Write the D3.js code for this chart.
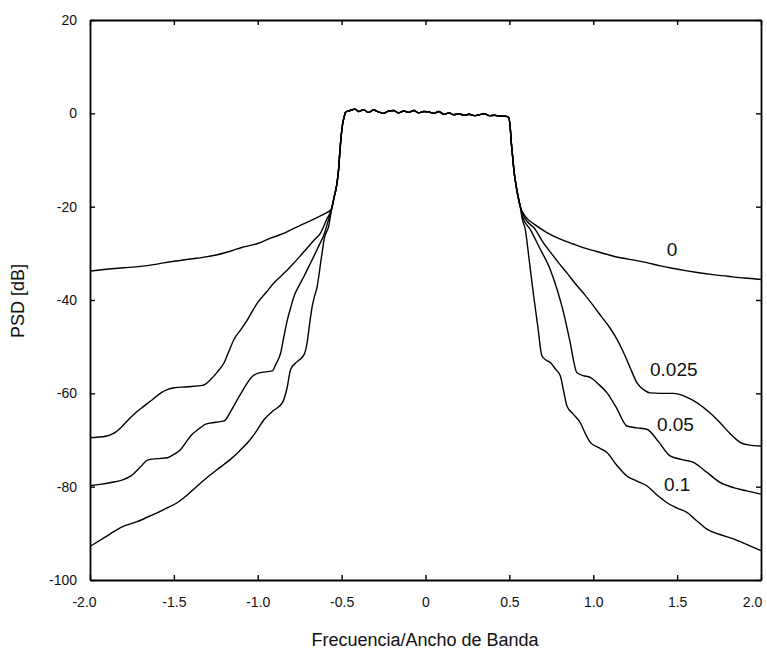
<!DOCTYPE html>
<html>
<head>
<meta charset="utf-8">
<script src="https://cdn.jsdelivr.net/npm/d3@7"></script>
<style>
  html, body { margin: 0; padding: 0; background: #fff; }
  svg { display: block; }
  text { font-family: "Liberation Sans", Arial, sans-serif; fill: #111; }
</style>
</head>
<body>
<svg id="chart" width="767" height="652"></svg>
<script>
// ---------------- data (frequency / bandwidth, PSD in dB) ----------------
const xTicks = [-2.0, -1.5, -1.0, -0.5, 0, 0.5, 1.0, 1.5, 2.0];
const xTickLabels = ["-2.0", "-1.5", "-1.0", "-0.5", "0", "0.5", "1.0", "1.5", "2.0"];
const yTicks = [20, 0, -20, -40, -60, -80, -100];
const yTickLabels = ["20", "0", "-20", "-40", "-60", "-80", "-100"];

const seriesNames = ["0", "0.025", "0.05", "0.1"];

// shared main lobe (edges + flat passband)
const band = [
  [-0.560, -20.5], [-0.545, -18.0], [-0.530, -15.5], [-0.518, -12.0], [-0.510, -8.0],
  [-0.503, -5.0], [-0.495, -2.5], [-0.485, -0.8], [-0.475, 0.3], [-0.45, 0.6],
  [-0.42, 0.9], [-0.40, 0.4], [-0.37, 0.8], [-0.34, 0.2], [-0.31, 0.7], [-0.28, 0.3],
  [-0.25, 0.0], [-0.22, 0.5], [-0.19, 0.6], [-0.16, 0.1], [-0.13, 0.5], [-0.10, 0.2],
  [-0.07, 0.6], [-0.04, 0.1], [-0.01, 0.4], [0.02, 0.3], [0.05, 0.0], [0.08, 0.4],
  [0.11, -0.2], [0.14, 0.1], [0.17, -0.3], [0.20, -0.1], [0.23, -0.4], [0.26, -0.2],
  [0.29, -0.5], [0.32, -0.3], [0.35, -0.1], [0.38, -0.5], [0.41, -0.4], [0.44, -0.6],
  [0.47, -0.6], [0.495, -0.8], [0.505, -3.0], [0.512, -6.5], [0.520, -9.5],
  [0.528, -12.5], [0.538, -15.0], [0.550, -17.5], [0.565, -20.0]
];

// left skirts (from f = -2 up to the main lobe)
const left0 = [
  [-2.00, -33.8], [-1.90, -33.4], [-1.80, -33.1], [-1.70, -32.8], [-1.60, -32.3],
  [-1.50, -31.7], [-1.40, -31.2], [-1.30, -30.7], [-1.24, -30.3], [-1.16, -29.5],
  [-1.10, -28.8], [-1.00, -27.9], [-0.92, -26.7], [-0.85, -25.8], [-0.80, -24.9],
  [-0.72, -23.6], [-0.65, -22.4], [-0.60, -21.5]
];
const left025 = [
  [-2.00, -69.5], [-1.905, -69.2], [-1.86, -68.6], [-1.815, -67.3], [-1.77, -65.6],
  [-1.726, -64.1], [-1.68, -62.8], [-1.637, -61.6], [-1.577, -59.9], [-1.54, -59.2],
  [-1.498, -58.8], [-1.42, -58.6], [-1.329, -58.3], [-1.28, -57.0], [-1.24, -55.4],
  [-1.20, -53.4], [-1.17, -50.8], [-1.141, -48.4], [-1.10, -46.3], [-1.061, -44.2],
  [-1.002, -40.6], [-0.95, -38.4], [-0.903, -36.3], [-0.85, -34.5], [-0.804, -32.8],
  [-0.75, -30.7], [-0.704, -28.8], [-0.665, -27.2], [-0.625, -25.6], [-0.59, -22.8]
];
const left05 = [
  [-2.00, -79.8], [-1.94, -79.5], [-1.875, -79.1], [-1.81, -78.6], [-1.756, -77.7],
  [-1.70, -75.8], [-1.657, -74.3], [-1.60, -74.0], [-1.538, -73.8], [-1.50, -73.1],
  [-1.458, -72.0], [-1.43, -70.6], [-1.399, -69.1], [-1.35, -67.6], [-1.310, -66.6],
  [-1.25, -66.2], [-1.200, -65.9], [-1.16, -63.8], [-1.121, -61.3], [-1.09, -59.4],
  [-1.061, -57.7], [-1.03, -56.3], [-0.992, -55.6], [-0.913, -55.2], [-0.89, -53.6],
  [-0.863, -51.3], [-0.845, -48.0], [-0.823, -44.2], [-0.80, -41.2], [-0.784, -39.2],
  [-0.755, -37.0], [-0.724, -34.9], [-0.695, -32.8], [-0.665, -30.6], [-0.635, -28.3],
  [-0.605, -26.0], [-0.58, -23.0]
];
const left1 = [
  [-2.00, -92.8], [-1.90, -90.6], [-1.815, -88.7], [-1.72, -87.5], [-1.637, -86.2],
  [-1.56, -84.9], [-1.478, -83.4], [-1.42, -81.8], [-1.359, -79.8], [-1.30, -78.0],
  [-1.240, -76.3], [-1.20, -75.2], [-1.161, -74.1], [-1.11, -72.4], [-1.061, -70.6],
  [-1.01, -68.2], [-0.962, -65.6], [-0.91, -63.8], [-0.853, -62.0], [-0.825, -58.8],
  [-0.804, -54.9], [-0.765, -53.2], [-0.724, -51.7], [-0.705, -49.0], [-0.695, -46.3],
  [-0.685, -43.6], [-0.675, -41.3], [-0.660, -39.0], [-0.645, -37.0], [-0.635, -34.6],
  [-0.625, -32.0], [-0.615, -29.5], [-0.605, -27.1], [-0.576, -24.0]
];

// right skirts (from the main lobe out to f = 2)
const right0 = [
  [0.60, -22.3], [0.65, -23.8], [0.726, -25.6], [0.80, -26.9], [0.88, -28.0],
  [0.95, -28.9], [1.02, -29.6], [1.10, -30.4], [1.17, -31.0], [1.25, -31.5],
  [1.32, -32.0], [1.40, -32.7], [1.47, -33.2], [1.55, -33.7], [1.62, -34.1],
  [1.70, -34.5], [1.80, -34.9], [1.90, -35.3], [2.00, -35.6]
];
const right025 = [
  [0.59, -22.3], [0.655, -24.9], [0.70, -27.6], [0.75, -30.0], [0.80, -32.3],
  [0.843, -34.2], [0.90, -36.8], [0.95, -38.9], [1.002, -41.3], [1.05, -43.6],
  [1.10, -46.0], [1.141, -48.4], [1.18, -51.2], [1.22, -54.5], [1.260, -57.7],
  [1.30, -59.2], [1.339, -59.9], [1.40, -60.0], [1.478, -60.0], [1.55, -60.7],
  [1.617, -62.0], [1.69, -64.0], [1.756, -66.3], [1.815, -68.6], [1.875, -70.5],
  [1.93, -71.1], [2.00, -71.3]
];
const right05 = [
  [0.58, -22.3], [0.625, -24.9], [0.68, -28.8], [0.744, -33.5], [0.785, -37.8],
  [0.823, -42.7], [0.86, -48.7], [0.903, -55.6], [0.94, -56.2], [0.982, -56.6],
  [1.03, -58.0], [1.082, -59.9], [1.14, -63.2], [1.200, -67.0], [1.26, -67.4],
  [1.319, -67.7], [1.39, -70.4], [1.458, -73.4], [1.53, -74.2], [1.597, -74.8],
  [1.68, -77.0], [1.756, -79.1], [1.835, -80.2], [1.915, -80.9], [2.00, -81.6]
];
const right1 = [
  [0.575, -22.3], [0.595, -24.9], [0.62, -32.0], [0.645, -39.2], [0.67, -45.8],
  [0.694, -52.0], [0.72, -52.9], [0.744, -53.4], [0.775, -54.8], [0.804, -56.3],
  [0.825, -59.8], [0.843, -62.7], [0.88, -64.4], [0.923, -66.3], [0.95, -68.4],
  [0.982, -70.5], [1.03, -71.6], [1.082, -72.7], [1.14, -75.4], [1.200, -77.7],
  [1.26, -78.8], [1.319, -79.8], [1.38, -81.8], [1.438, -83.4], [1.50, -84.6],
  [1.558, -85.5], [1.62, -87.4], [1.677, -89.1], [1.75, -90.2], [1.835, -91.2],
  [1.91, -92.3], [2.00, -93.7]
];

const leftSkirts = [left0, left025, left05, left1];
const rightSkirts = [right0, right025, right05, right1];

// ---------------- drawing ----------------
const svg = d3.select("#chart");
const x = d3.scaleLinear().domain([-2, 2]).range([90, 761]);
const y = d3.scaleLinear().domain([-100, 20]).range([580, 20]);

const line = d3.line().x(d => x(d[0])).y(d => y(d[1])).curve(d3.curveMonotoneX);

seriesNames.forEach((name, i) => {
  const pts = leftSkirts[i].concat(band, rightSkirts[i]);
  svg.append("path")
    .datum(pts)
    .attr("d", line)
    .attr("fill", "none")
    .attr("stroke", "#000")
    .attr("stroke-width", 1.4)
    .attr("stroke-linejoin", "round");
});

// axes with inward ticks
const fmtX = (d, i) => xTickLabels[i];
const fmtY = (d, i) => yTickLabels[i];

const gB = svg.append("g").attr("transform", `translate(0,${y(-100)})`)
  .call(d3.axisBottom(x).tickValues(xTicks).tickFormat(fmtX).tickSizeInner(-5).tickSizeOuter(0).tickPadding(17));
const gT = svg.append("g").attr("transform", `translate(0,${y(20)})`)
  .call(d3.axisTop(x).tickValues(xTicks).tickFormat("").tickSizeInner(-5).tickSizeOuter(0));
const gL = svg.append("g").attr("transform", `translate(${x(-2)},0)`)
  .call(d3.axisLeft(y).tickValues(yTicks).tickFormat(fmtY).tickSizeInner(-5).tickSizeOuter(0).tickPadding(13));
const gR = svg.append("g").attr("transform", `translate(${x(2)},0)`)
  .call(d3.axisRight(y).tickValues(yTicks).tickFormat("").tickSizeInner(-5).tickSizeOuter(0));

[gB, gT, gL, gR].forEach(g => {
  g.select(".domain").attr("stroke", "#000").attr("stroke-width", 1.8);
  g.selectAll(".tick line").attr("stroke", "#000").attr("stroke-width", 1.4);
  g.selectAll(".tick text").attr("font-family", "Liberation Sans, Arial, sans-serif")
    .attr("font-size", 14).attr("fill", "#111");
});
// keep the end labels inside the page, as in the reference
gB.selectAll(".tick text").attr("dx", (d, i) => i === 0 ? -6 : (i === xTicks.length - 1 ? -9 : 0));

// axis titles
svg.append("text")
  .attr("x", 425).attr("y", 646)
  .attr("text-anchor", "middle")
  .attr("font-size", 18)
  .text("Frecuencia/Ancho de Banda");

svg.append("text")
  .attr("transform", "translate(24,301) rotate(-90)")
  .attr("text-anchor", "middle")
  .attr("font-size", 18)
  .text("PSD [dB]");

// curve labels (anchored in data space)
const labelAnchors = [[1.47, -30.5], [1.48, -56.2], [1.49, -68.1], [1.50, -81.0]];
seriesNames.forEach((name, i) => {
  svg.append("text")
    .attr("x", x(labelAnchors[i][0]))
    .attr("y", y(labelAnchors[i][1]))
    .attr("text-anchor", "middle")
    .attr("font-size", 19)
    .text(name);
});
</script>
</body>
</html>
